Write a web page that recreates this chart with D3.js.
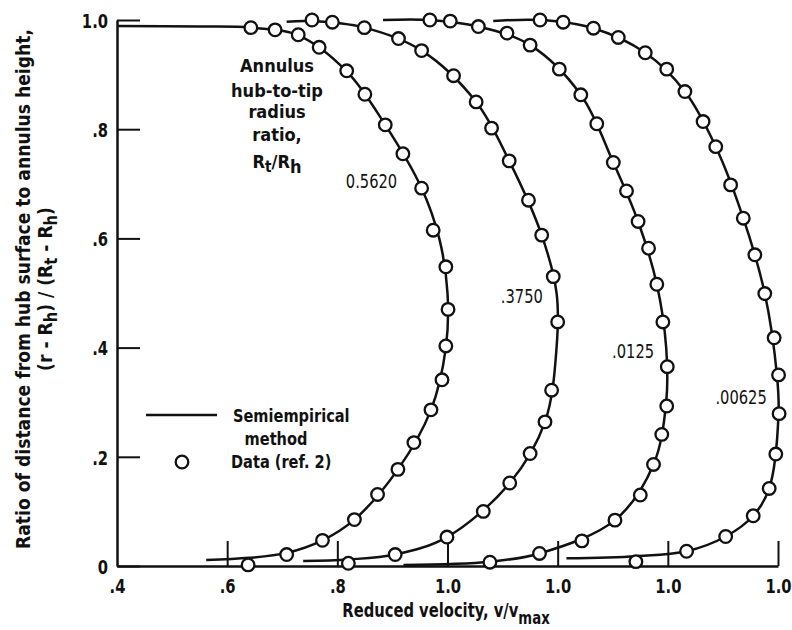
<!DOCTYPE html>
<html>
<head>
<meta charset="utf-8">
<script src="https://cdn.jsdelivr.net/npm/d3@7"></script>
<style>
  body { margin: 0; background: #fff; }
  svg text { font-family: "DejaVu Sans Condensed", "DejaVu Sans", sans-serif; fill: #111; }
</style>
</head>
<body>
<svg id="chart" width="792" height="630"></svg>
<script>
// hub-to-tip ratios, one curve each; every curve is shifted 0.2 to the right of the last
const ratios = ["0.5620", ".3750", ".0125", ".00625"];
const shifts = [0, 0.2, 0.4, 0.6];

// data (ref. 2): [v/vmax, (r-Rh)/(Rt-Rh)]
const data5620 = [[0.643,0.986],[0.687,0.982],[0.729,0.973],[0.767,0.950],[0.817,0.907],[0.850,0.864],[0.887,0.808],[0.919,0.755],[0.953,0.692],[0.974,0.615],[0.997,0.548],[1.001,0.470],[0.997,0.403],[0.990,0.341],[0.970,0.286],[0.939,0.226],[0.910,0.177],[0.873,0.131],[0.831,0.085],[0.773,0.047],[0.708,0.021],[0.638,0.002]];
const data3750 = [[0.554,1.0],[0.591,0.996],[0.649,0.986],[0.711,0.966],[0.753,0.944],[0.811,0.898],[0.852,0.850],[0.880,0.802],[0.912,0.742],[0.947,0.670],[0.971,0.606],[0.992,0.530],[1.000,0.447],[0.989,0.322],[0.977,0.264],[0.950,0.206],[0.913,0.152],[0.865,0.100],[0.799,0.053],[0.705,0.021],[0.620,0.005]];
const data0125 = [[0.568,1.0],[0.605,0.998],[0.656,0.988],[0.708,0.976],[0.750,0.954],[0.803,0.910],[0.842,0.863],[0.871,0.810],[0.901,0.739],[0.925,0.687],[0.946,0.631],[0.965,0.582],[0.980,0.516],[0.991,0.447],[0.999,0.365],[0.998,0.293],[0.989,0.241],[0.974,0.186],[0.950,0.130],[0.904,0.084],[0.844,0.046],[0.767,0.023],[0.677,0.007]];
const data00625 = [[0.568,1.0],[0.610,0.996],[0.665,0.985],[0.710,0.968],[0.759,0.940],[0.798,0.910],[0.831,0.869],[0.864,0.814],[0.887,0.768],[0.914,0.698],[0.937,0.637],[0.958,0.570],[0.976,0.499],[0.993,0.418],[1.001,0.350],[1.002,0.279],[0.996,0.205],[0.984,0.142],[0.955,0.092],[0.905,0.054],[0.834,0.027],[0.742,0.008]];

// semiempirical method
const line5620 = [[0.400,0.989],[0.550,0.988],[0.643,0.986],[0.729,0.972],[0.817,0.906],[0.887,0.808],[0.953,0.692],[0.985,0.600],[1.000,0.500],[0.997,0.400],[0.970,0.286],[0.910,0.177],[0.831,0.085],[0.773,0.047],[0.708,0.024],[0.640,0.015],[0.562,0.011]];
const line3750 = [[0.508,0.997],[0.553,0.998],[0.649,0.986],[0.753,0.944],[0.852,0.850],[0.912,0.742],[0.971,0.606],[0.998,0.500],[0.998,0.400],[0.977,0.264],[0.913,0.152],[0.799,0.053],[0.705,0.021],[0.620,0.012],[0.538,0.009]];
const line0125 = [[0.483,1.0],[0.568,1.0],[0.656,0.988],[0.750,0.954],[0.842,0.863],[0.901,0.739],[0.946,0.631],[0.980,0.516],[0.997,0.400],[0.997,0.300],[0.974,0.186],[0.904,0.084],[0.767,0.023],[0.677,0.008],[0.520,0.002]];
const line00625 = [[0.483,0.998],[0.568,1.0],[0.665,0.985],[0.759,0.940],[0.831,0.869],[0.887,0.768],[0.937,0.637],[0.976,0.499],[0.998,0.350],[1.001,0.279],[0.984,0.142],[0.955,0.092],[0.905,0.054],[0.834,0.027],[0.742,0.018],[0.616,0.014]];

// where the ratio labels sit, in each curve's own coordinates
const labelAt = [[0.862,0.704],[0.935,0.493],[0.937,0.394],[0.933,0.308]];

const xTicks = [0.4, 0.6, 0.8, 1.0, 1.2, 1.4, 1.6];
const xTickLabels = [".4", ".6", ".8", "1.0", "1.0", "1.0", "1.0"];
const yTicks = [0, 0.2, 0.4, 0.6, 0.8, 1.0];
const yTickLabels = ["0", ".2", ".4", ".6", ".8", "1.0"];

const curves = [
  { data: data5620, line: line5620 },
  { data: data3750, line: line3750 },
  { data: data0125, line: line0125 },
  { data: data00625, line: line00625 },
];

const svg = d3.select("#chart");

const x = d3.scaleLinear().domain([0.4, 1.6]).range([117, 778]);
const y = d3.scaleLinear().domain([0, 1]).range([566, 20]);

// the report's lettering is tall and narrow, squeeze the text sideways
function narrow(parent, px, py, sx) {
  return parent.append("g")
    .attr("transform", `translate(${px},${py}) scale(${sx},1)`)
    .append("text");
}

// axes
const xAxis = svg.append("g")
  .attr("transform", `translate(0,${y(0)})`)
  .call(d3.axisBottom(x).tickValues(xTicks)
    .tickFormat((d, i) => xTickLabels[i])
    .tickSizeInner(-25).tickSizeOuter(0).tickPadding(13));

const yAxis = svg.append("g")
  .attr("transform", `translate(${x(0.4)},0)`)
  .call(d3.axisLeft(y).tickValues(yTicks)
    .tickFormat((d, i) => yTickLabels[i])
    .tickSizeInner(-23).tickSizeOuter(0).tickPadding(11));

[xAxis, yAxis].forEach(g => {
  g.select(".domain").attr("stroke", "#111").attr("stroke-width", 2.5);
  g.selectAll(".tick line").attr("stroke", "#111").attr("stroke-width", 2);
  g.selectAll(".tick text")
    .attr("font-size", 20)
    .attr("font-weight", "bold")
    .attr("fill", "#111")
    .attr("transform", "scale(0.82,1)");
});
yAxis.selectAll(".tick text").attr("dy", "0.36em");
xAxis.select(".tick line").remove();

// curves
const line = d3.line().curve(d3.curveCatmullRom.alpha(0.5));

curves.forEach((c, k) => {
  const g = svg.append("g");
  g.append("path")
    .attr("d", line(c.line.map(d => [x(d[0] + shifts[k]), y(d[1])])))
    .attr("fill", "none")
    .attr("stroke", "#111")
    .attr("stroke-width", 2.5);

  g.selectAll("circle")
    .data(c.data)
    .enter()
    .append("circle")
    .attr("cx", d => x(d[0] + shifts[k]))
    .attr("cy", d => y(d[1]))
    .attr("r", 6.3)
    .attr("fill", "#fff")
    .attr("stroke", "#111")
    .attr("stroke-width", 2.3);

  narrow(g, x(labelAt[k][0] + shifts[k]), y(labelAt[k][1]), 0.86)
    .attr("dy", "0.35em")
    .attr("text-anchor", "middle")
    .attr("font-size", 19)
    .text(ratios[k]);
});

// annotation
const note = svg.append("text")
  .attr("text-anchor", "middle")
  .attr("font-size", 18)
  .attr("font-weight", "bold");
[["Annulus", 72], ["hub-to-tip", 97], ["radius", 118], ["ratio,", 141]].forEach(([t, yy]) => {
  note.append("tspan").attr("x", 277).attr("y", yy).text(t);
});
const rr = svg.append("text")
  .attr("x", 277).attr("y", 168)
  .attr("text-anchor", "middle")
  .attr("font-size", 18)
  .attr("font-weight", "bold");
rr.append("tspan").text("R");
rr.append("tspan").attr("font-size", 15).attr("dy", 4).text("t");
rr.append("tspan").attr("dy", -4).text("/R");
rr.append("tspan").attr("font-size", 18).attr("dy", 5).text("h");

// legend
const legend = svg.append("g").attr("font-size", 18).attr("font-weight", "bold");
legend.append("line")
  .attr("x1", 146).attr("x2", 217).attr("y1", 415).attr("y2", 415)
  .attr("stroke", "#111").attr("stroke-width", 2.5);
narrow(legend, 233, 422, 0.9).text("Semiempirical");
narrow(legend, 276, 445, 0.9).attr("text-anchor", "middle").text("method");
legend.append("circle")
  .attr("cx", 182).attr("cy", 462).attr("r", 6.3)
  .attr("fill", "#fff").attr("stroke", "#111").attr("stroke-width", 2.3);
narrow(legend, 231, 468, 0.9).text("Data (ref. 2)");

// axis titles
const xt = narrow(svg, 446, 617, 0.82)
  .attr("text-anchor", "middle")
  .attr("font-size", 20)
  .attr("font-weight", "bold");
xt.append("tspan").text("Reduced velocity, v/v");
xt.append("tspan").attr("dy", 7).attr("font-size", 18).text("max");

const yt = svg.append("g").attr("transform", "translate(30,289) rotate(-90) scale(0.955,1)");
yt.append("text")
  .attr("text-anchor", "middle")
  .attr("font-size", 20)
  .attr("font-weight", "bold")
  .text("Ratio of distance from hub surface to annulus height,");
const yt2 = yt.append("text")
  .attr("y", 22)
  .attr("text-anchor", "middle")
  .attr("font-size", 20)
  .attr("font-weight", "bold");
yt2.append("tspan").text("(r - R");
yt2.append("tspan").attr("dy", 5).attr("font-size", 17).text("h");
yt2.append("tspan").attr("dy", -5).text(") / (R");
yt2.append("tspan").attr("dy", 5).attr("font-size", 17).text("t");
yt2.append("tspan").attr("dy", -5).text(" - R");
yt2.append("tspan").attr("dy", 5).attr("font-size", 17).text("h");
yt2.append("tspan").attr("dy", -5).text(")");
</script>
</body>
</html>
